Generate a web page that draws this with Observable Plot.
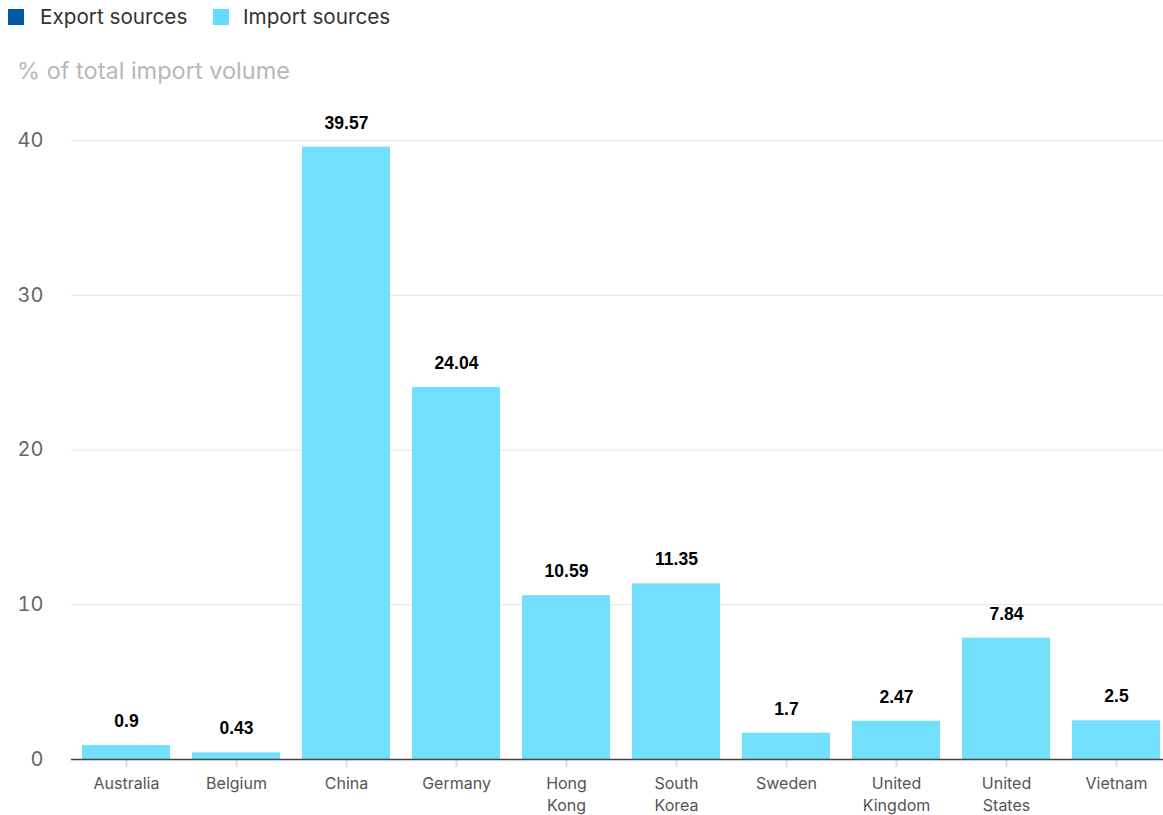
<!DOCTYPE html>
<html>
<head>
<meta charset="utf-8">
<script src="https://cdn.jsdelivr.net/npm/d3@7"></script>
<script src="https://cdn.jsdelivr.net/npm/@observablehq/plot@0.6"></script>
<style>
  html, body { margin: 0; padding: 0; background: #fff; overflow: hidden; width: 1163px; height: 815px; }
  body { font-family: Inter, Roboto, "Liberation Sans", sans-serif; }
  #legend { height: 36px; position: relative; }
  .sw { position: absolute; top: 9px; width: 16px; height: 16px; }
  .lt { position: absolute; top: 4px; font-size: 20.7px; color: #333; line-height: 26px; }
  #sub { height: 54px; position: relative; }
  #sub span { position: absolute; left: 17px; top: 21px; font-size: 23.5px; color: #b8b8b8; line-height: 28px; }
  #chart svg { display: block; max-width: none !important; }
</style>
</head>
<body>
<div id="legend">
  <div class="sw" style="left:8px;background:#005ba6"></div><div class="lt" style="left:40px">Export sources</div>
  <div class="sw" style="left:213px;background:#64dcff"></div><div class="lt" style="left:243px">Import sources</div>
</div>
<div id="sub"><span>% of total import volume</span></div>
<div id="chart"></div>
<script>
const countries = ["Australia","Belgium","China","Germany","Hong Kong","South Korea","Sweden","United Kingdom","United States","Vietnam"];
const tickLabels = ["Australia","Belgium","China","Germany","Hong\nKong","South\nKorea","Sweden","United\nKingdom","United\nStates","Vietnam"];
const values = [0.9, 0.43, 39.57, 24.04, 10.59, 11.35, 1.7, 2.47, 7.84, 2.5];
const yTicks = [0, 10, 20, 30, 40];

const data = countries.map((c, i) => ({country: c, value: values[i], label: String(values[i])}));
const labelOf = new Map(countries.map((c, i) => [c, tickLabels[i]]));

const chart = Plot.plot({
  width: 1172,
  height: 725,
  marginLeft: 71,
  marginRight: 1,
  marginTop: 50,
  marginBottom: 56,
  style: {fontFamily: "Inter, Roboto, 'Liberation Sans', sans-serif", background: "#fff", maxWidth: "none"},
  x: {domain: countries, paddingInner: 0.2, paddingOuter: 0.1, label: null},
  y: {domain: [0, 40], label: null},
  marks: [
    Plot.gridY(yTicks, {stroke: "#e4e4e4", strokeOpacity: 1, strokeWidth: 1}),
    Plot.axisY(yTicks, {tickSize: 0, tickPadding: 28, fontSize: 20, fill: "#666", label: null}),
    Plot.axisX({tickSize: 8, stroke: "#ddd", strokeWidth: 2, tickPadding: 6, fontSize: 16, fill: "#555", tickFormat: d => labelOf.get(d), label: null, lineHeight: 1.38}),
    Plot.barY(data, {x: "country", y: "value", fill: "#72dffd"}),
    Plot.ruleY([0], {stroke: "#444", strokeWidth: 1.5}),
    Plot.text(data, {x: "country", y: "value", text: "label", dy: -24, fontSize: 17.5, fontWeight: "bold", fill: "#000", fontFamily: "'Liberation Sans', Arial, sans-serif"})
  ]
});
document.getElementById("chart").appendChild(chart);
</script>
</body>
</html>
